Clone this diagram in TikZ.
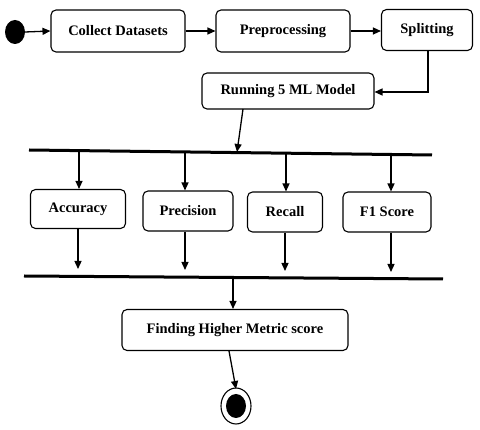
\documentclass[tikz,border=0pt]{standalone}
\usepackage{fontspec}
\setmainfont{Liberation Serif}
\usetikzlibrary{arrows.meta}
\begin{document}
\begin{tikzpicture}[x=1pt,y=-1pt,
  act/.style={draw, rounded corners=5pt, line width=1.1pt, font=\bfseries\fontsize{14.5}{16}\selectfont, inner sep=0pt, anchor=center},
  arr/.style={line width=1.3pt, -{Triangle[length=8pt,width=7pt]}},
  bar/.style={line width=3pt}]
\useasboundingbox (0,0) rectangle (480,430);
\fill (15,32) ellipse [x radius=10, y radius=12];
\coordinate (start) at (25,32);
\node[act, minimum width=134pt, minimum height=42pt] (collect) at (118,31) {Collect Datasets};
\node[act, minimum width=134pt, minimum height=42pt] (prep) at (283,31) {Preprocessing};
\node[act, minimum width=91pt, minimum height=41pt] (split) at (427,30) {Splitting};
\node[act, minimum width=172pt, minimum height=36pt] (run) at (288,91) {Running 5 ML Model};
\draw[arr] (start) -- (collect.west);
\draw[arr] (collect) -- (prep);
\draw[arr] (prep.east) -- (split.west |- prep.east);
\coordinate (sc) at (428,92);
\draw[arr] (split.south -| sc) -- (sc) -- (run.east |- sc);
% top bar
\coordinate (b1l) at (29,150);
\coordinate (b1r) at (432,155);
\draw[bar] (b1l) -- (b1r);
\coordinate (runout) at (243,109);
\coordinate (b1in) at (237,152);
\draw[arr] (runout) -- (b1in);
\node[act, minimum width=95pt, minimum height=39pt] (acc) at (78,209) {Accuracy};
\node[act, minimum width=90pt, minimum height=40pt] (prec) at (188,211) {Precision};
\node[act, minimum width=75pt, minimum height=40pt] (rec) at (285,212) {Recall};
\node[act, minimum width=88pt, minimum height=40pt] (f1) at (387,212) {F1 Score};
\coordinate (t1) at (79,151);
\coordinate (t2) at (185,152);
\coordinate (t3) at (286,153);
\coordinate (t4) at (391,154);
\draw[arr] (t1) -- (acc.north -| t1);
\draw[arr] (t2) -- (prec.north -| t2);
\draw[arr] (t3) -- (rec.north -| t3);
\draw[arr] (t4) -- (f1.north -| t4);
% bottom bar
\coordinate (b2l) at (24,276);
\coordinate (b2r) at (443,279);
\draw[bar] (b2l) -- (b2r);
\coordinate (e1) at (78,269);
\coordinate (e2) at (185,270);
\coordinate (e3) at (285,271);
\coordinate (e4) at (391,272);
\draw[arr] (acc.south -| e1) -- (e1);
\draw[arr] (prec.south -| e2) -- (e2);
\draw[arr] (rec.south -| e3) -- (e3);
\draw[arr] (f1.south -| e4) -- (e4);
\node[act, minimum width=226pt, minimum height=41pt] (find) at (235,330) {Finding Higher Metric score};
\coordinate (b2out) at (233,278);
\draw[arr] (b2out) -- (find.north -| b2out);
\coordinate (fout) at (229,351);
\coordinate (endin) at (236,389);
\draw[arr] (fout) -- (endin);
\draw[line width=1.1pt] (236,406) ellipse [x radius=15, y radius=18];
\fill (236,406) ellipse [x radius=10, y radius=12];
\end{tikzpicture}
\end{document}
